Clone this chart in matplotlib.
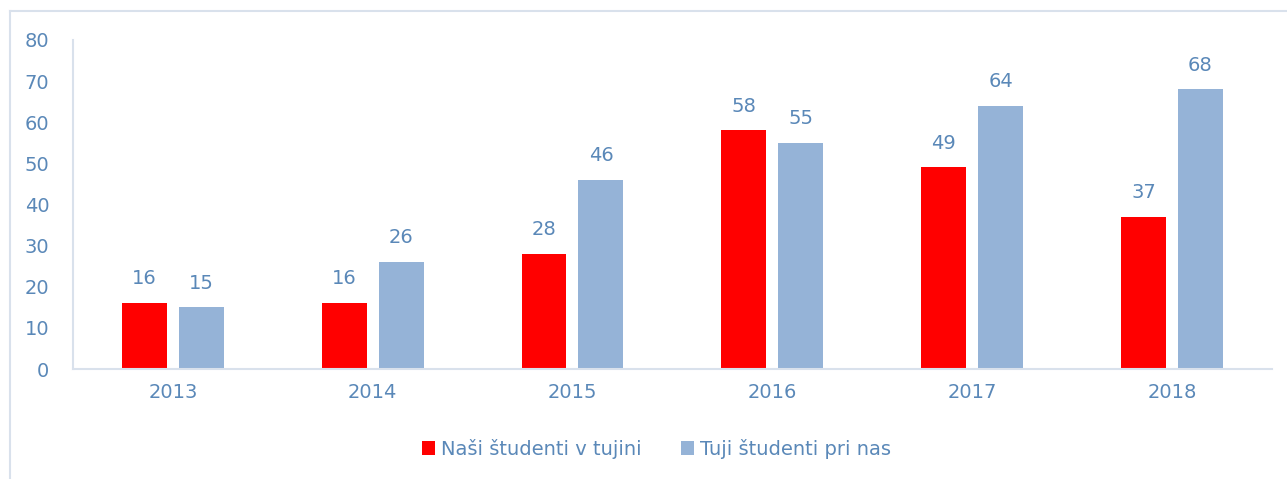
import matplotlib.pyplot as plt
from matplotlib.lines import Line2D
import numpy as np

years = ['2013', '2014', '2015', '2016', '2017', '2018']
nasi = [16, 16, 28, 58, 49, 37]
tuji = [15, 26, 46, 55, 64, 68]

txt = '#5a88b8'
axcol = '#d9e1ec'

plt.rcParams['font.family'] = 'DejaVu Sans'

fig = plt.figure(figsize=(12.87, 4.79), dpi=100)
ax = fig.add_axes([0.0567, 0.2296, 0.9315, 0.6869])

x = np.arange(len(years))
w = 0.225
b1 = ax.bar(x - 0.1425, nasi, w, color='#ff0000', label='Naši študenti v tujini')
b2 = ax.bar(x + 0.1425, tuji, w, color='#95b3d7', label='Tuji študenti pri nas')

# oznake vrednosti nad stolpci
for bars in (b1, b2):
    for r in bars:
        ax.text(r.get_x() + r.get_width() / 2, r.get_height() + 3.6, str(int(r.get_height())),
                ha='center', va='bottom', fontsize=14, color=txt)

ax.set_xlim(-0.5, 5.5)
ax.set_ylim(0, 80)
ax.set_yticks(range(0, 81, 10))
ax.set_xticks(x)
ax.set_xticklabels(years)
ax.tick_params(length=0, labelsize=14, labelcolor=txt)
ax.tick_params(axis='y', pad=17)
ax.tick_params(axis='x', pad=10)
for s in ['top', 'right']:
    ax.spines[s].set_visible(False)
for s in ['left', 'bottom']:
    ax.spines[s].set_color(axcol)
    ax.spines[s].set_linewidth(1.5)

leg = fig.legend(loc='center', bbox_to_anchor=(0.51, 0.063), ncol=2, frameon=False,
                 fontsize=14, handlelength=0.7, handleheight=0.7, handletextpad=0.3,
                 columnspacing=2.0)
for t in leg.get_texts():
    t.set_color(txt)

# okvir grafa
fig.add_artist(Line2D([10 / 1287, 1], [1 - 11 / 479, 1 - 11 / 479], color=axcol, lw=1.5))
fig.add_artist(Line2D([10 / 1287, 10 / 1287], [0, 1 - 11 / 479], color=axcol, lw=1.5))

fig.savefig('out.png', dpi=100)
